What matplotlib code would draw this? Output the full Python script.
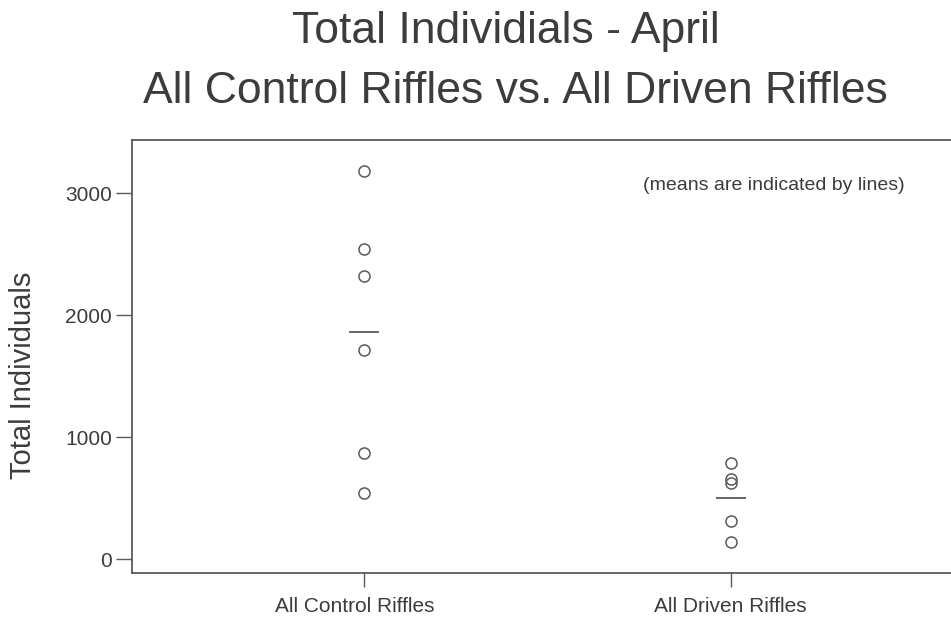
import numpy as np
import matplotlib
matplotlib.use("Agg")
import matplotlib.pyplot as plt
from matplotlib.transforms import ScaledTranslation

# Total individuals per riffle, April sampling
categories = ["All Control Riffles", "All Driven Riffles"]
control_values = [3185, 2543, 2325, 1716, 869, 546]
driven_values = [792, 656, 623, 316, 144]
y_ticks = [0, 1000, 2000, 3000]

ink = "#3c3c3c"
line_col = "#5a5a5a"

plt.rcParams["font.family"] = ["Liberation Sans", "DejaVu Sans"]

W, H = 951, 630
fig = plt.figure(figsize=(W / 100, H / 100), dpi=100)
fig.patch.set_facecolor("white")

ax = fig.add_axes([132 / W, (H - 572.5) / H, (960 - 132) / W, (572.5 - 140) / H])

groups = [control_values, driven_values]
for i, vals in enumerate(groups, start=1):
    xs = np.full(len(vals), i)
    ax.plot(xs, vals, linestyle="none", marker="o", markersize=8,
            markerfacecolor="none", markeredgecolor=line_col,
            markeredgewidth=1.1, clip_on=False)
    m = np.mean(vals)
    ax.hlines(m, i - 0.041, i + 0.041, colors=line_col, linewidth=1.3)

ax.set_xlim(0.366, 2.626)
ax.set_ylim(-108, 3437)

ax.set_xticks([1, 2])
ax.set_xticklabels(categories, fontsize=15, color=ink)
ax.set_yticks(y_ticks)
ax.set_yticklabels([str(v) for v in y_ticks], fontsize=15, color=ink)

ax.tick_params(axis="x", direction="out", length=10, width=1.0,
               color=line_col, pad=8)
ax.tick_params(axis="y", direction="out", length=11.5, width=1.0,
               color=line_col, pad=3)

# the first category label sits slightly left of its tick
first = ax.get_xticklabels()[0]
first.set_transform(first.get_transform() + ScaledTranslation(-10 / 100, 0, fig.dpi_scale_trans))

for side in ["left", "bottom", "top", "right"]:
    ax.spines[side].set_color(line_col)
    ax.spines[side].set_linewidth(1.3)

fig.text(643 / W, 1 - 190 / H, "(means are indicated by lines)",
         fontsize=14, color=ink, ha="left", va="baseline")

fig.text(23 / W, 1 - 375 / H, "Total Individuals", rotation=90, fontsize=21,
         color=ink, ha="center", va="center")

fig.text(506 / W, 1 - 43 / H, "Total Individials - April", fontsize=32,
         color=ink, ha="center", va="baseline")
fig.text(515 / W, 1 - 103 / H, "All Control Riffles vs. All Driven Riffles",
         fontsize=32, color=ink, ha="center", va="baseline")

fig.savefig("out.png", dpi=100, facecolor="white")
